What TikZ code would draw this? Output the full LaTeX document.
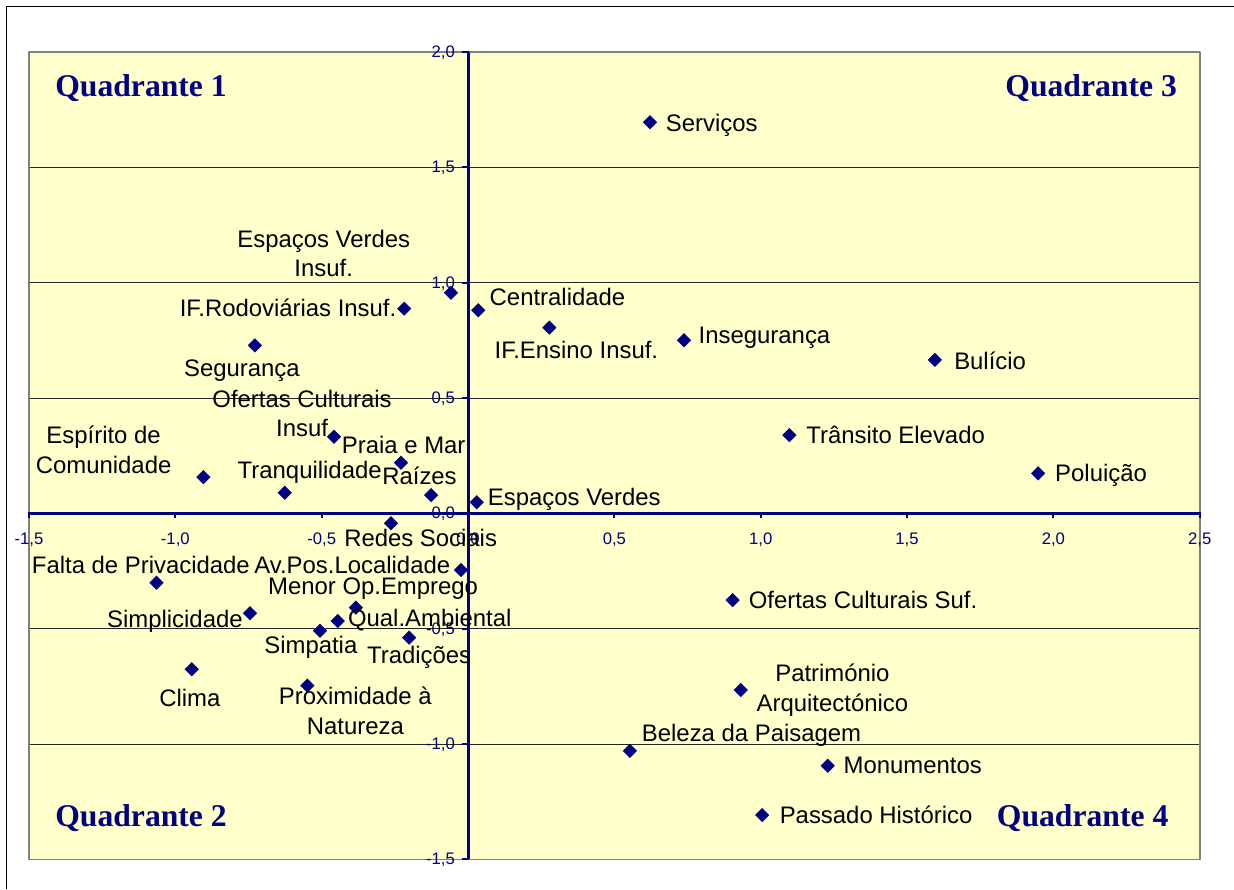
\documentclass[tikz,border=0pt]{standalone}
\usepackage{fontspec}
\setmainfont{Liberation Serif}
\setsansfont{Liberation Sans}
\usetikzlibrary{shapes.geometric}
\definecolor{navy}{RGB}{0,0,128}
\definecolor{chartbg}{RGB}{255,255,204}
\tikzset{
	pt/.style={diamond, fill=navy, inner sep=0pt, minimum size=2.9mm},
	lbl/.style={font=\sffamily\fontsize{13.6}{16.9}\selectfont, inner sep=0pt, anchor=base west},
	lbltwo/.style={font=\sffamily\fontsize{13.6}{16.9}\selectfont, inner sep=0pt, align=center},
	ticklbl/.style={font=\sffamily\fontsize{9.5}{11}\selectfont, text=navy, inner sep=0pt},
	quad/.style={font=\rmfamily\bfseries\fontsize{18}{21}\selectfont, text=navy, inner sep=0pt, anchor=base west}
}
\begin{document}
\begin{tikzpicture}[x=5.854cm, y=4.614cm, line join=round]
				\useasboundingbox (-1.599,-1.629) rectangle (2.617,2.225);
				\draw[line width=0.6pt] (-1.578,-1.629) -- (-1.578,2.195) -- (2.617,2.195);
				\fill[chartbg] (-1.5,-1.5) rectangle (2.5,2);
				\foreach \y in {-1,-0.5,0.5,1,1.5}
				\draw[black!85, line width=0.5pt] (-1.5,\y) -- (2.5,\y);
				\draw[gray, line width=0.9pt] (-1.5,-1.5) rectangle (2.5,2);
				% eixos
				\draw[navy, line width=1.7pt] (-1.5,0) -- (2.5,0);
				\draw[navy, line width=1.7pt] (0,-1.5) -- (0,2);
				\foreach \v/\t in {-1.5/{-1,5},-1/{-1,0},-0.5/{-0,5},0/{0,0},0.5/{0,5},1/{1,0},1.5/{1,5},2/{2,0},2.5/{2,5}}
				{\draw[navy, line width=1.2pt] (\v,0.004) -- (\v,-0.022);
				\node[ticklbl, anchor=base] (tx\v) at (\v,-0.137) {\t};}
				\foreach \v/\t in {-1.5/{-1,5},-1/{-1,0},-0.5/{-0,5},0/{0,0},0.5/{0,5},1/{1,0},1.5/{1,5},2/{2,0}}
				{\draw[navy, line width=1.2pt] (0.004,\v) -- (-0.019,\v);
				\node[ticklbl, anchor=base east] (ty\v) at (-0.044,\v-0.024) {\t};}
				% pontos e etiquetas
				\foreach \n/\a/\b/\c/\d/\t in {
					serv/0.622/1.695/0.675/1.656/Serviços,
					ifr/-0.218/0.887/-0.986/0.852/IF.Rodoviárias Insuf.,
					cent/0.035/0.880/0.073/0.899/Centralidade,
					ife/0.278/0.805/0.090/0.672/IF.Ensino Insuf.,
					inseg/0.738/0.750/0.787/0.737/Insegurança,
					seg/-0.728/0.728/-0.971/0.592/Segurança,
					bul/1.595/0.665/1.660/0.624/Bulício,
					tran/1.098/0.339/1.155/0.303/Trânsito Elevado,
					praia/-0.229/0.219/-0.432/0.260/Praia e Mar,
					pol/1.948/0.173/2.005/0.137/Poluição,
					tranq/-0.626/0.089/-0.788/0.149/Tranquilidade,
					raiz/-0.126/0.079/-0.294/0.123/Raízes,
					ev/0.030/0.048/0.067/0.033/Espaços Verdes,
					redes/-0.263/-0.043/-0.424/-0.145/Redes Sociais,
					falta/-1.064/-0.301/-1.491/-0.260/Falta de Privacidade,
					avpos/-0.024/-0.246/-0.731/-0.260/Av.Pos.Localidade,
					menor/-0.383/-0.409/-0.684/-0.354/Menor Op.Emprego,
					ocs/0.904/-0.376/0.958/-0.412/Ofertas Culturais Suf.,
					simpl/-0.745/-0.433/-1.234/-0.494/Simplicidade,
					qual/-0.445/-0.467/-0.411/-0.492/Qual.Ambiental,
					simpat/-0.506/-0.509/-0.697/-0.607/Simpatia,
					trad/-0.201/-0.539/-0.346/-0.650/Tradições,
					clima/-0.944/-0.676/-1.056/-0.838/Clima,
					bel/0.553/-1.030/0.593/-0.990/Beleza da Paisagem,
					mon/1.229/-1.094/1.282/-1.127/Monumentos,
					pass/1.005/-1.308/1.064/-1.344/Passado Histórico}
				{\node[pt] (\n) at (\a,\b) {};
				\node[lbl] (\n-t) at (\c,\d) {\t};}
				\foreach \n/\a/\b/\c/\d/\t in {
					evi/-0.058/0.956/-0.493/1.127/{Espaços Verdes\\Insuf.},
					oci/-0.458/0.332/-0.567/0.433/{Ofertas Culturais\\Insuf},
					esp/-0.904/0.157/-1.245/0.274/{Espírito de\\Comunidade},
					prox/-0.549/-0.747/-0.385/-0.855/{Proximidade à\\Natureza},
					patr/0.932/-0.766/1.245/-0.766/{Património\\Arquitectónico}}
				{\node[pt] (\n) at (\a,\b) {};
				\node[lbltwo] (\n-t) at (\c,\d) {\t};}
				% quadrantes
				\node[quad] (q1) at (-1.411,1.806) {Quadrante 1};
				\node[quad] (q2) at (-1.411,-1.358) {Quadrante 2};
				\node[quad] (q3) at (1.835,1.806) {Quadrante 3};
				\node[quad] (q4) at (1.806,-1.358) {Quadrante 4};
\end{tikzpicture}
\end{document}
